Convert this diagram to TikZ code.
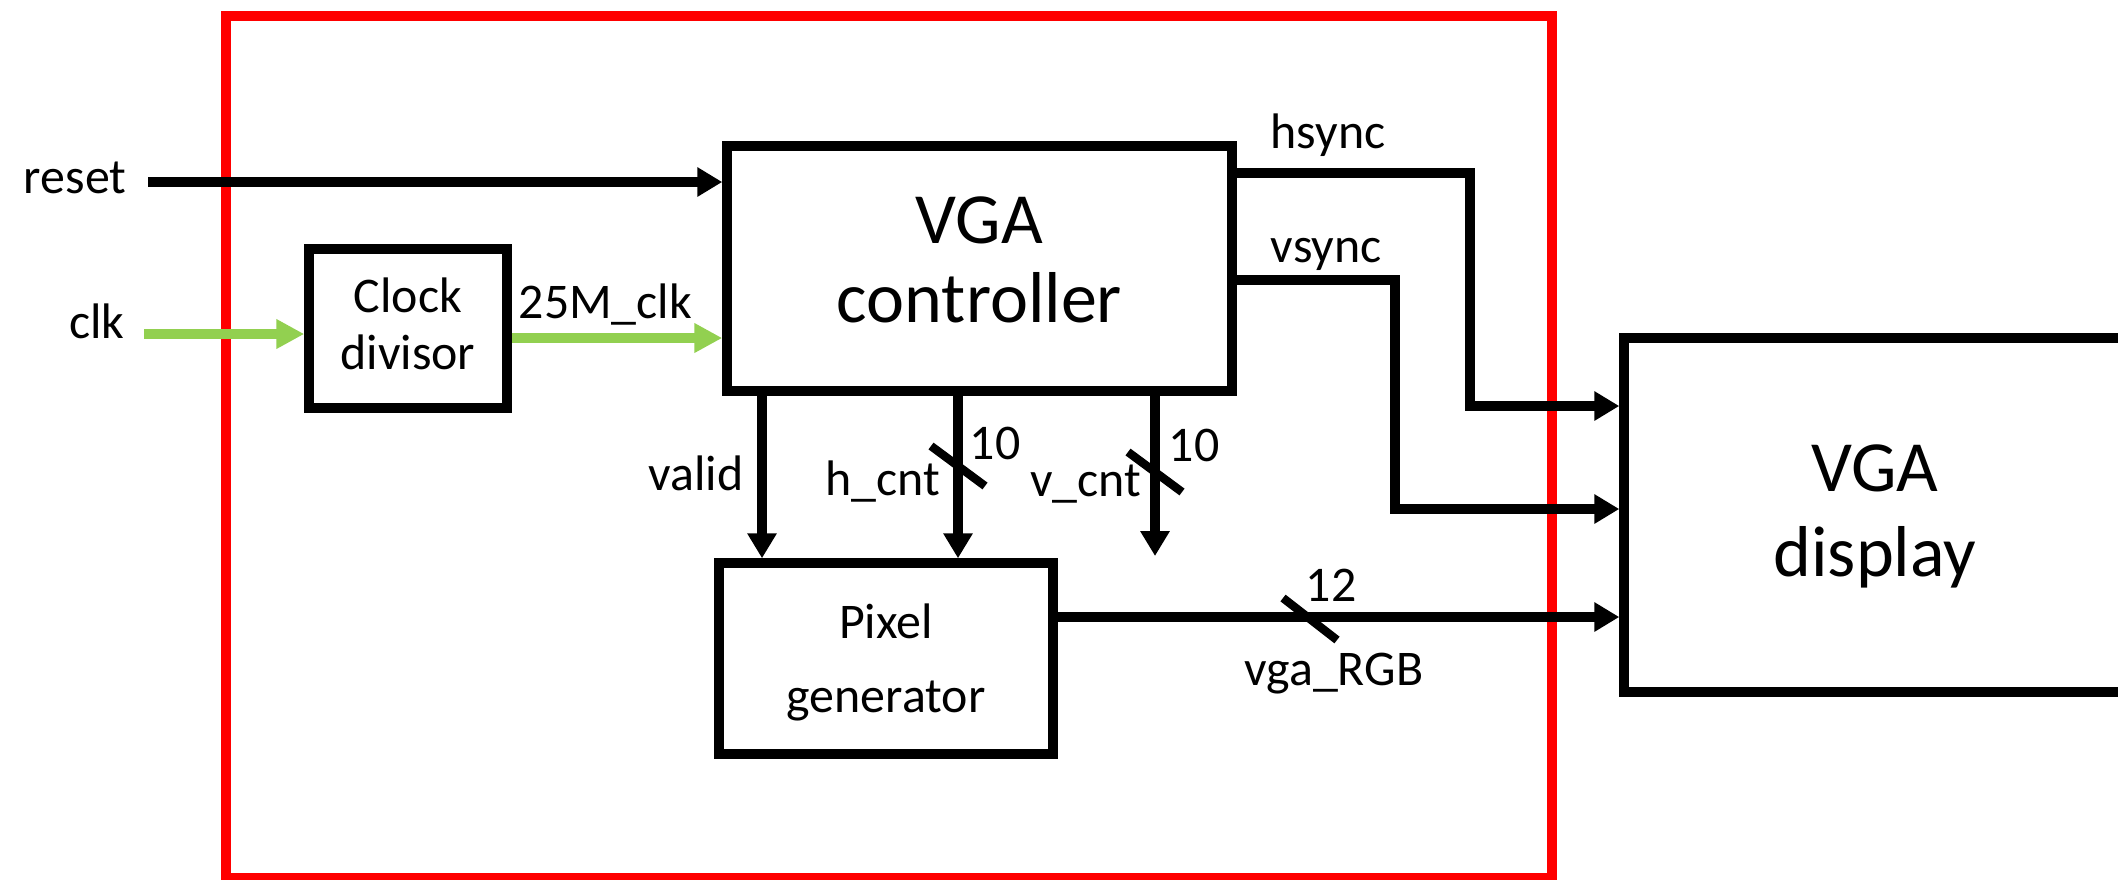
\documentclass[tikz,border=0pt]{standalone}
\usepackage{fontspec}
\setmainfont{Carlito}
\usetikzlibrary{arrows.meta}
\definecolor{clkgreen}{RGB}{146,208,80}
\newcommand\lbltxt{\fontsize{14.2}{16}\selectfont}
\newcommand\divtxt{\fontsize{14.2}{16.2}\selectfont}
\newcommand\pixtxt{\fontsize{14.2}{21}\selectfont}
\newcommand\bigtxt{\fontsize{20.5}{22.6}\selectfont}
\newcommand\disptxt{\fontsize{20.5}{24}\selectfont}
\tikzset{
  blk/.style={draw, line width=2.7pt, inner sep=0pt, align=center},
  lbl/.style={inner sep=0pt, font=\lbltxt},
  sig/.style={line width=2.6pt, -{Triangle[length=2.5mm,width=2.8mm]}},
  gsig/.style={sig, draw=clkgreen, line width=2.8pt, -{Triangle[length=2.8mm,width=2.8mm]}},
  slash/.style={line width=2.4pt},
  redline/.style={draw=red, line width=3.1pt}
}
\begin{document}
\begin{tikzpicture}[x=0.1mm,y=-0.1mm]
  \useasboundingbox (0,0) rectangle (2118,879);
  \draw[redline] (226,16) rectangle (1552,878);

  % blocks
  \node[blk, font=\bigtxt, text depth=5pt, minimum width=50.5mm, minimum height=24.5mm] (ctrl) at (979.5,268.5) {VGA\\controller};
  \node[blk, font=\divtxt, text depth=2.8pt, minimum width=19.8mm, minimum height=15.9mm] (div) at (408,328.5) {Clock\\divisor};
  \node[blk, font=\pixtxt, text depth=0pt, minimum width=33.4mm, minimum height=19.1mm] (pix) at (886,658.5) {Pixel\\generator};
  \node[blk, font=\disptxt, text depth=2.5pt, minimum width=50.2mm, minimum height=35.4mm] (disp) at (1875,515) {VGA\\display};

  % inputs
  \coordinate (rstin) at (148,182);
  \coordinate (clkin) at (144,334);
  \coordinate (c25) at (511,338);
  \node[lbl, anchor=base east] (rst) at (127,193) {reset};
  \node[lbl, anchor=base east] (clk) at (125,338) {clk};
  \node[lbl, anchor=base west] (clk25) at (518,318) {25M\_clk};
  \draw[sig] (rstin) -- (rstin -| ctrl.west);
  \draw[gsig] (clkin) -- (clkin -| div.west);
  \draw[gsig] (div.east |- c25) -- (c25 -| ctrl.west);

  % sync
  \coordinate (hs) at (1470,173);
  \coordinate (hsd) at (1470,406);
  \coordinate (vs) at (1395,280);
  \coordinate (vsd) at (1395,509);
  \node[lbl, anchor=base west] (hsync) at (1270,148) {hsync};
  \node[lbl, anchor=base west] (vsync) at (1270,262) {vsync};
  \draw[sig] (ctrl.east |- hs) -- (hs) -- (hsd) -- (hsd -| disp.west);
  \draw[sig] (ctrl.east |- vs) -- (vs) -- (vsd) -- (vsd -| disp.west);

  % counters
  \coordinate (xv) at (762,0);
  \coordinate (xh) at (958,0);
  \coordinate (vend) at (1155,556);
  \draw[sig] (ctrl.south -| xv) -- (pix.north -| xv);
  \draw[sig] (ctrl.south -| xh) -- (pix.north -| xh);
  \draw[sig] (ctrl.south -| vend) -- (vend);
  \draw[slash] (958,466) +(-27,-20) -- +(27,20);
  \draw[slash] (1155,472) +(-27,-20) -- +(27,20);
  \node[lbl, anchor=base east] (valid) at (744,490) {valid};
  \node[lbl, anchor=base east] (hcnt) at (941,495) {h\_cnt};
  \node[lbl, anchor=base east] (vcnt) at (1142,496) {v\_cnt};
  \node[lbl, anchor=base west] (hw) at (969,459) {10};
  \node[lbl, anchor=base west] (vw) at (1168,461) {10};

  % rgb
  \coordinate (rgb) at (1100,617);
  \draw[sig] (pix.east |- rgb) -- (rgb -| disp.west);
  \draw[slash] (1310,619) +(-27,-21) -- +(27,21);
  \node[lbl, anchor=base west] (rgbw) at (1305,601) {12};
  \node[lbl, anchor=base west] (vgargb) at (1244,685) {vga\_RGB};
\end{tikzpicture}
\end{document}
